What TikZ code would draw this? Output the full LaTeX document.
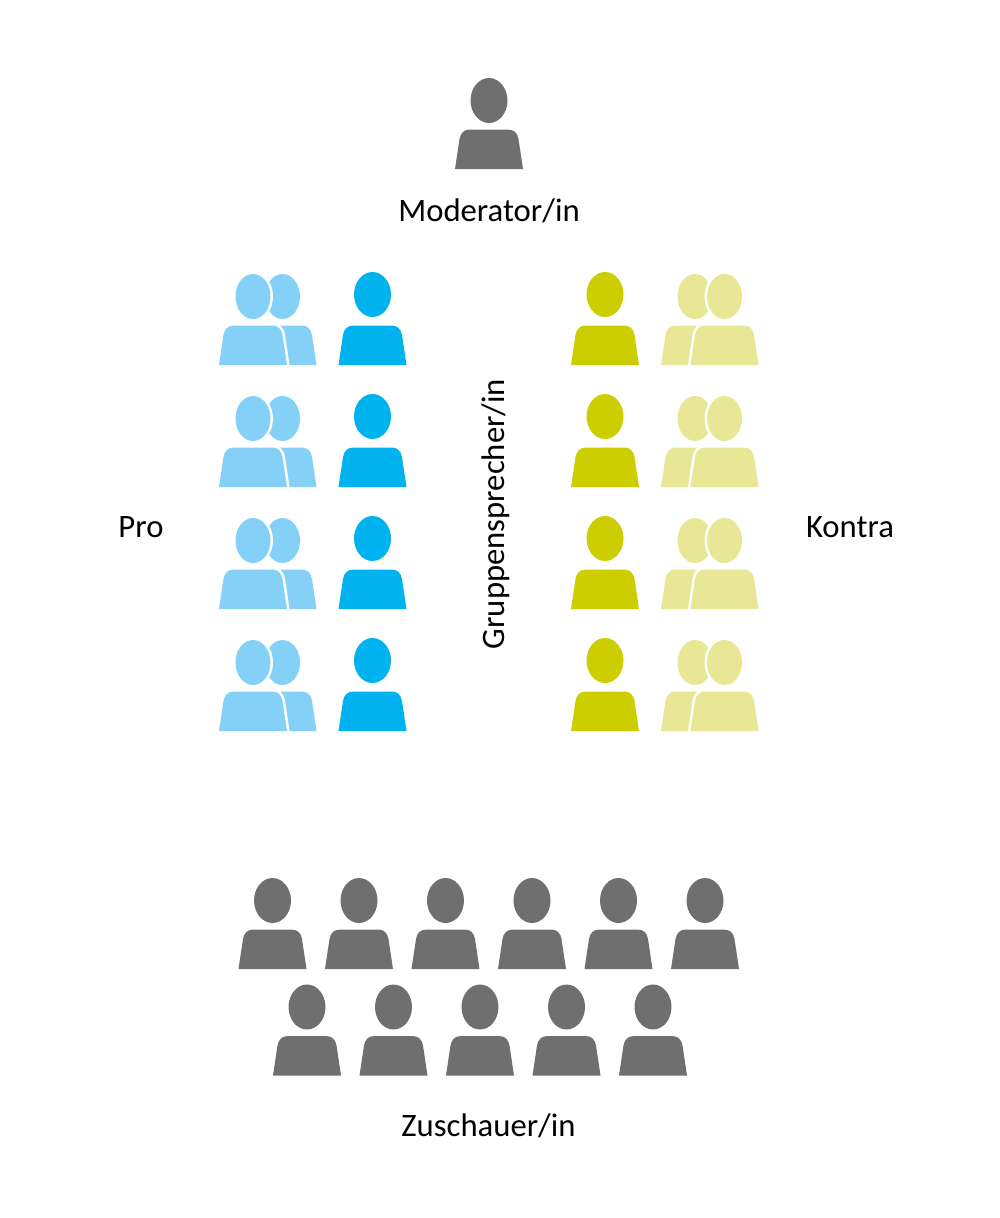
\documentclass[tikz,border=0pt]{standalone}
\usepackage{fontspec}
\setmainfont{Carlito}

\definecolor{audgray}{HTML}{6F6F6F}
\definecolor{problue}{HTML}{00B2EE}
\definecolor{prolight}{HTML}{85D0F7}
\definecolor{conolive}{HTML}{CDCE00}
\definecolor{conlight}{HTML}{E7E796}

\tikzset{label text/.style={font=\fontsize{9.3}{12}\selectfont, text=black, inner sep=0pt}}

% x, bottom y, colour, head height
\newcommand{\bodypath}{(-34,0) -- (-29.5,-30) .. controls (-28.5,-36) and (-25,-39.5) .. (-19,-39.5) -- (19,-39.5) .. controls (25,-39.5) and (28.5,-36) .. (29.5,-30) -- (34,0) -- cycle}
\newcommand{\person}[4][68.5]{
\fill[#4, shift={(#2,#3)}] (0,-#1) ellipse [x radius=18.5, y radius=22.5];
\fill[#4, shift={(#2,#3)}] \bodypath;
}
% x front, x back, bottom y, colour
\newcommand{\personpair}[4]{
\fill[#4, shift={(#2,#3)}] (0,-68.5) ellipse [x radius=17.5, y radius=22.5];
\fill[#4, shift={(#2,#3)}] \bodypath;
\draw[white, line width=0.05cm, shift={(#1,#3)}] (0,-68.5) ellipse [x radius=17.5, y radius=22.5];
\draw[white, line width=0.05cm, shift={(#1,#3)}] \bodypath;
\fill[#4, shift={(#1,#3)}] (0,-68.5) ellipse [x radius=17.5, y radius=22.5];
\fill[#4, shift={(#1,#3)}] \bodypath;
}

\begin{document}
\begin{tikzpicture}[x=0.01cm, y=-0.01cm]

\useasboundingbox (0,0) rectangle (1000,1218);

\person{489}{169}{audgray}
\node[label text] (moderator) at (489,211) {Moderator/in};

\foreach \y in {365,487,609,731}{
\personpair{253}{282.5}{\y}{prolight}
\person[70.5]{372.5}{\y}{problue}
\person[70.5]{605}{\y}{conolive}
\personpair{724.5}{695}{\y}{conlight}
}

\node[label text] (pro) at (141,527) {Pro};
\node[label text] (kontra) at (850,527) {Kontra};
\node[label text, rotate=90] (sprecher) at (496,514) {Gruppensprecher/in};

\foreach \x in {272.5,359,445.5,532,618.5,705}{
\person{\x}{969}{audgray}
}
\foreach \x in {307,393.5,480,566.5,653}{
\person{\x}{1075.5}{audgray}
}

\node[label text] (zuschauer) at (488.5,1126) {Zuschauer/in};

\end{tikzpicture}
\end{document}
